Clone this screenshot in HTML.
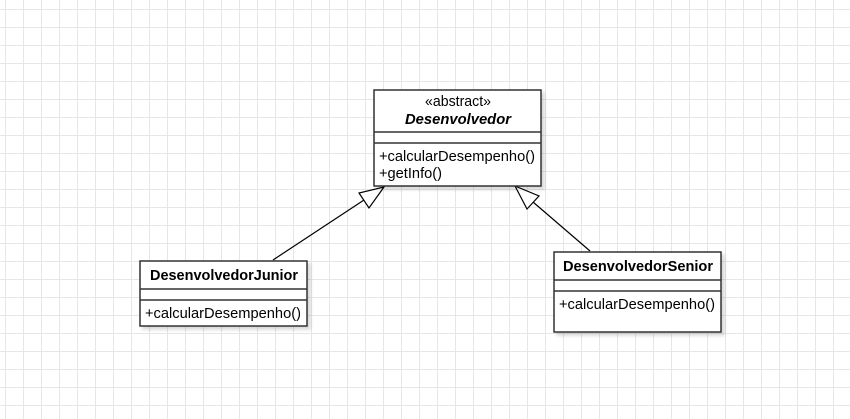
<!DOCTYPE html>
<html><head><style>
body{margin:0;width:850px;height:419px;overflow:hidden;background:#fff;
background-image:linear-gradient(to right,#e6e6e6 1px,transparent 1px),linear-gradient(to bottom,#e6e6e6 1px,transparent 1px);
background-size:18px 18px;background-position:5px 9px;font-family:"Liberation Sans",sans-serif;}
</style></head><body>
<svg width="850" height="419" style="position:absolute;left:0;top:0" font-family="Liberation Sans, sans-serif">
<defs><filter id="s" x="-10%" y="-10%" width="130%" height="130%"><feDropShadow dx="3" dy="3" stdDeviation="1.5" flood-color="#000" flood-opacity="0.15"/></filter></defs>
<g stroke="#000" fill="none" stroke-width="1.2">
<line x1="273" y1="260" x2="364" y2="200"/>
<polygon points="384,187 359,193 369,208" fill="#fff"/>
<line x1="590" y1="251" x2="533" y2="202"/>
<polygon points="515,186 539,196 527,209" fill="#fff"/>
</g>
<g stroke="#333" stroke-width="1.5" fill="#fff">
<rect x="374" y="90" width="167" height="96" filter="url(#s)"/>
<line x1="374" y1="132" x2="541" y2="132"/><line x1="374" y1="143" x2="541" y2="143"/>
<rect x="140" y="261" width="167" height="65" filter="url(#s)"/>
<line x1="140" y1="289" x2="307" y2="289"/><line x1="140" y1="300" x2="307" y2="300"/>
<rect x="554" y="252" width="167" height="80" filter="url(#s)"/>
<line x1="554" y1="280" x2="721" y2="280"/><line x1="554" y1="291" x2="721" y2="291"/>
</g>
<g font-size="14.5" fill="#000" lengthAdjust="spacingAndGlyphs">
<text x="425" y="106" textLength="66" lengthAdjust="spacingAndGlyphs">«abstract»</text>
<text x="405" y="124" font-weight="bold" font-style="italic" textLength="106" lengthAdjust="spacingAndGlyphs">Desenvolvedor</text>
<text x="379" y="161" textLength="156" lengthAdjust="spacingAndGlyphs">+calcularDesempenho()</text>
<text x="379" y="178" textLength="63" lengthAdjust="spacingAndGlyphs">+getInfo()</text>
<text x="150" y="280" font-weight="bold" textLength="148" lengthAdjust="spacingAndGlyphs">DesenvolvedorJunior</text>
<text x="145" y="318" textLength="156" lengthAdjust="spacingAndGlyphs">+calcularDesempenho()</text>
<text x="563" y="271" font-weight="bold" textLength="150" lengthAdjust="spacingAndGlyphs">DesenvolvedorSenior</text>
<text x="559" y="309" textLength="156" lengthAdjust="spacingAndGlyphs">+calcularDesempenho()</text>
</g>
</svg>
</body></html>
